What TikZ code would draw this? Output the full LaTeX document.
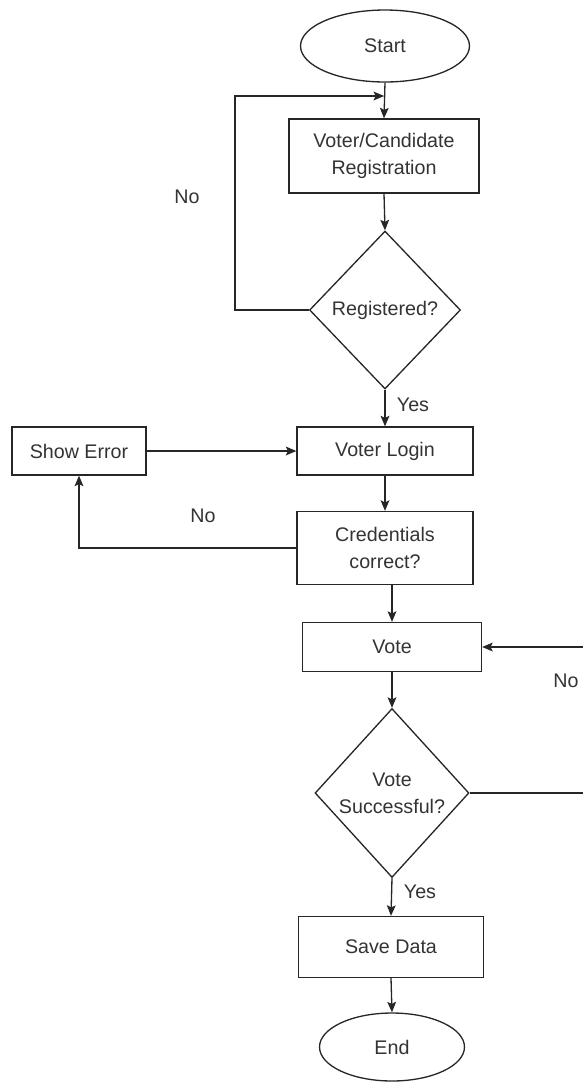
\documentclass[tikz,border=0pt]{standalone}
\usepackage{fontspec}
\setmainfont{Liberation Sans}
\usetikzlibrary{shapes.geometric,arrows.meta}
\begin{document}
\begin{tikzpicture}[x=0.02cm,y=-0.02cm,
  every node/.style={font=\fontsize{11.2}{15.2}\selectfont, text=black!80},
  proc/.style={draw=black!85, line width=0.75pt, rectangle, align=center, inner sep=0pt},
  term/.style={draw=black!85, line width=0.75pt, ellipse, inner sep=0pt},
  decide/.style={draw=black!85, line width=0.75pt, diamond, aspect=1, align=center, inner sep=0pt},
  flow/.style={draw=black!85, line width=0.75pt, -{Stealth[length=6pt,width=5pt,inset=1.2pt]}},
  tag/.style={inner sep=0pt}]
\useasboundingbox (0,0) rectangle (582,1086);

% nodes
\node[term, minimum width=3.38cm, minimum height=1.44cm] (start) at (385,46) {Start};
\node[proc, minimum width=3.8cm, minimum height=1.48cm] (reg) at (384,156) {Voter/Candidate\\Registration};
\node[decide, minimum width=3.02cm, minimum height=3.16cm] (isreg) at (385,310) {Registered?};
\node[proc, minimum width=3.52cm, minimum height=0.96cm] (login) at (385,451) {Voter Login};
\node[proc, minimum width=2.68cm, minimum height=0.96cm] (err) at (79,451) {Show Error};
\node[proc, minimum width=3.52cm, minimum height=1.46cm] (cred) at (385,548) {Credentials\\correct?};
\node[proc, minimum width=3.58cm, minimum height=0.98cm] (vote) at (392,647) {Vote};
\node[decide, minimum width=3.08cm, minimum height=3.38cm] (ok) at (392,793) {Vote\\Successful?};
\node[proc, minimum width=3.7cm, minimum height=1.22cm] (save) at (391,947) {Save Data};
\node[term, minimum width=2.9cm, minimum height=1.36cm] (fin) at (392,1047) {End};

% joining points of the loops
\coordinate (join) at (385,96);
\coordinate (retry) at (586,0);

% connectors
\draw[flow] (start.south) -- (reg.north);
\draw[flow] (reg.south) -- (isreg.north);
\draw[flow] (isreg.west) -- (235,310) -- (235,96) -- ([xshift=-0.5pt]join);
\draw[flow] (isreg.south) -- (login.north);
\draw[flow] (err.east) -- (login.west);
\draw[flow] (login.south) -- (cred.north);
\draw[flow] (cred.west) -| (err.south);
\draw[flow] (vote.north |- cred.south) -- (vote.north);
\draw[flow] (vote.south) -- (ok.north);
\draw[flow] (ok.east) -- (ok.east -| retry) -- (vote.east -| retry) -- (vote.east);
\draw[flow] (ok.south) -- (save.north);
\draw[flow] (save.south) -- (fin.north);

% branch labels
\node[tag] (no1) at (187,197) {No};
\node[tag] (yes1) at (413,405) {Yes};
\node[tag] (no2) at (203,516) {No};
\node[tag] (no3) at (566,681) {No};
\node[tag] (yes2) at (420,892) {Yes};
\end{tikzpicture}
\end{document}
